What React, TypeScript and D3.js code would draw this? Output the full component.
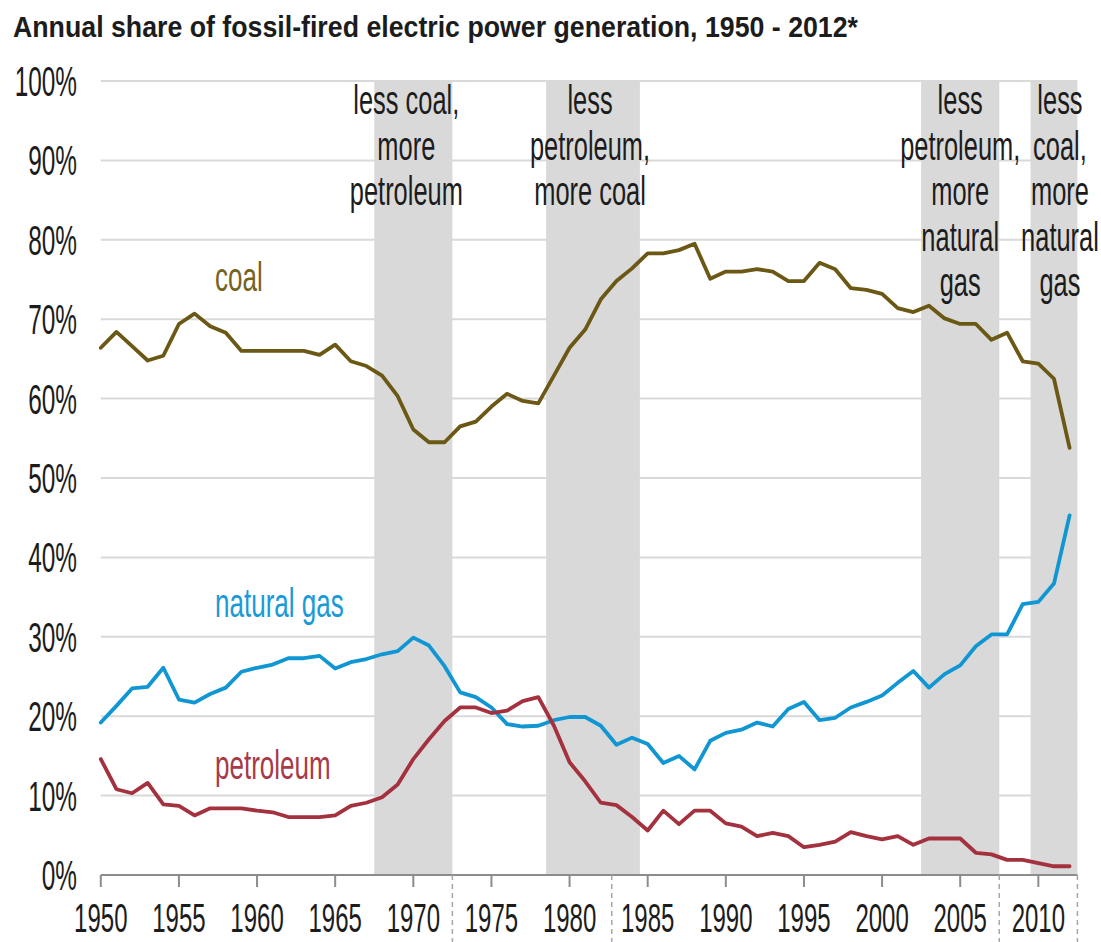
import React from "react";
import * as d3 from "d3";

// annual share of fossil-fired generation, percent
const years = [
  1950, 1951, 1952, 1953, 1954, 1955, 1956, 1957, 1958, 1959,
  1960, 1961, 1962, 1963, 1964, 1965, 1966, 1967, 1968, 1969,
  1970, 1971, 1972, 1973, 1974, 1975, 1976, 1977, 1978, 1979,
  1980, 1981, 1982, 1983, 1984, 1985, 1986, 1987, 1988, 1989,
  1990, 1991, 1992, 1993, 1994, 1995, 1996, 1997, 1998, 1999,
  2000, 2001, 2002, 2003, 2004, 2005, 2006, 2007, 2008, 2009,
  2010, 2011, 2012,
];

const coal = [
  66.4, 68.4, 66.6, 64.8, 65.4, 69.4, 70.7, 69.1, 68.3, 66.0,
  66.0, 66.0, 66.0, 66.0, 65.5, 66.8, 64.7, 64.1, 62.9, 60.3,
  56.1, 54.5, 54.5, 56.5, 57.1, 59.0, 60.6, 59.7, 59.4, 62.9,
  66.4, 68.7, 72.5, 74.8, 76.4, 78.3, 78.3, 78.7, 79.5, 75.1,
  76.0, 76.0, 76.3, 76.0, 74.8, 74.8, 77.1, 76.3, 73.9, 73.7,
  73.2, 71.4, 70.9, 71.7, 70.1, 69.4, 69.4, 67.4, 68.3, 64.7,
  64.4, 62.5, 53.8,
];

const naturalGas = [
  19.2, 21.3, 23.5, 23.7, 26.1, 22.1, 21.7, 22.8, 23.6, 25.6,
  26.1, 26.5, 27.3, 27.3, 27.6, 26.0, 26.8, 27.2, 27.8, 28.2,
  29.9, 28.9, 26.3, 23.0, 22.4, 21.1, 19.0, 18.7, 18.8, 19.5,
  19.9, 19.9, 18.8, 16.4, 17.3, 16.5, 14.1, 15.0, 13.3, 16.9,
  17.9, 18.3, 19.2, 18.7, 20.9, 21.8, 19.5, 19.8, 21.1, 21.8,
  22.6, 24.2, 25.7, 23.6, 25.3, 26.4, 28.8, 30.3, 30.3, 34.1,
  34.4, 36.7, 45.3,
];

const petroleum = [
  14.6, 10.8, 10.3, 11.6, 8.9, 8.7, 7.5, 8.4, 8.4, 8.4,
  8.1, 7.9, 7.3, 7.3, 7.3, 7.5, 8.7, 9.1, 9.8, 11.4,
  14.6, 17.1, 19.4, 21.1, 21.1, 20.4, 20.7, 21.9, 22.4, 18.8,
  14.2, 11.8, 9.1, 8.8, 7.3, 5.6, 8.1, 6.4, 8.1, 8.1,
  6.5, 6.1, 4.9, 5.3, 4.9, 3.5, 3.8, 4.2, 5.4, 4.9,
  4.5, 4.9, 3.8, 4.6, 4.6, 4.6, 2.8, 2.6, 1.9, 1.9,
  1.5, 1.1, 1.1,
];

// shaded periods
const bandStart = [1967.5, 1978.5, 2002.5, 2009.5];
const bandEnd = [1972.5, 1984.5, 2007.5, 2012.5];
const bandNotes = [
  ["less coal,", "more", "petroleum"],
  ["less", "petroleum,", "more coal"],
  ["less", "petroleum,", "more", "natural", "gas"],
  ["less", "coal,", "more", "natural", "gas"],
];
// dashed marks under the axis
const dividers = [1972.5, 1982.7, 2007.5, 2012.5];

const xTicks = [1950, 1955, 1960, 1965, 1970, 1975, 1980, 1985, 1990, 1995, 2000, 2005, 2010];
const yTicks = [0, 10, 20, 30, 40, 50, 60, 70, 80, 90, 100];

const title = "Annual share of fossil-fired electric power generation, 1950 - 2012*";

const FONT = "'Liberation Sans', Arial, sans-serif";
const GRID = "#d9d9d9";
const AXIS = "#8c8c8c";
const TEXT = "#1c1c1c";

// the original type is tall and squeezed, so scale it horizontally
function Squeezed(props: any) {
  const { x, y, sx, size, anchor, fill, children } = props;
  return (
    <text
      transform={`translate(${x},${y}) scale(${sx},1)`}
      textAnchor={anchor || "middle"}
      fontSize={size}
      fontFamily={FONT}
      fill={fill || TEXT}
    >
      {children}
    </text>
  );
}

export default function App() {
  const width = 1101;
  const height = 942;

  const x = d3.scaleLinear().domain([1950, 2012.5]).range([100.8, 1077.4]);
  const y = d3.scaleLinear().domain([0, 100]).range([875, 81]);
  const left = x(1950);
  const right = x(2012.5);

  const line = d3
    .line<number>()
    .x((d, i) => x(years[i]))
    .y((d) => y(d));

  const series = [
    { values: coal, color: "#6b5814" },
    { values: naturalGas, color: "#1096d3" },
    { values: petroleum, color: "#a3313e" },
  ];

  const noteDx = [-7, -3, 0, 6];
  const noteTop = 114;
  const noteStep = 45.5;

  return (
    <svg
      width={width}
      height={height}
      style={{ position: "absolute", left: 0, top: 0, background: "#fff" }}
    >
      {yTicks.slice(1).map((t) => (
        <line key={t} x1={left} x2={right} y1={y(t)} y2={y(t)} stroke={GRID} strokeWidth={2} />
      ))}

      {bandStart.map((s, i) => (
        <rect
          key={i}
          x={x(s)}
          y={y(100)}
          width={x(bandEnd[i]) - x(s)}
          height={y(0) - y(100)}
          fill={GRID}
        />
      ))}

      <line x1={left} x2={right} y1={y(0)} y2={y(0)} stroke={AXIS} strokeWidth={2} />
      {xTicks.map((t) => (
        <line key={t} x1={x(t)} x2={x(t)} y1={y(0)} y2={y(0) + 12} stroke={AXIS} strokeWidth={2} />
      ))}
      {dividers.map((d) => (
        <line
          key={d}
          x1={x(d)}
          x2={x(d)}
          y1={y(0)}
          y2={height}
          stroke="#a6a6a6"
          strokeWidth={1.5}
          strokeDasharray="5,4"
        />
      ))}

      {series.map((s, i) => (
        <path
          key={i}
          d={line(s.values) || ""}
          fill="none"
          stroke={s.color}
          strokeWidth={3.8}
          strokeLinejoin="round"
          strokeLinecap="round"
        />
      ))}

      {bandNotes.map((lines, i) => {
        const cx = x((bandStart[i] + bandEnd[i]) / 2) + noteDx[i];
        return lines.map((txt, j) => (
          <Squeezed key={i + "-" + j} x={cx} y={noteTop + j * noteStep} sx={0.62} size={41}>
            {txt}
          </Squeezed>
        ));
      })}

      <Squeezed x={215} y={291} sx={0.635} size={41} anchor="start" fill="#76631e">
        coal
      </Squeezed>
      <Squeezed x={215} y={617} sx={0.635} size={41} anchor="start" fill="#1a9ad6">
        natural gas
      </Squeezed>
      <Squeezed x={215} y={779} sx={0.635} size={41} anchor="start" fill="#a83a48">
        petroleum
      </Squeezed>

      {yTicks.map((t) => (
        <Squeezed key={t} x={77} y={y(t) + 15} sx={0.58} size={42} anchor="end">
          {t + "%"}
        </Squeezed>
      ))}
      {xTicks.map((t) => (
        <Squeezed key={t} x={x(t)} y={932} sx={0.6} size={40}>
          {t}
        </Squeezed>
      ))}

      <text
        x={13}
        y={37}
        fontSize={30}
        fontWeight="bold"
        fontFamily={FONT}
        fill={TEXT}
        textLength={845}
        lengthAdjust="spacingAndGlyphs"
      >
        {title}
      </text>
    </svg>
  );
}
